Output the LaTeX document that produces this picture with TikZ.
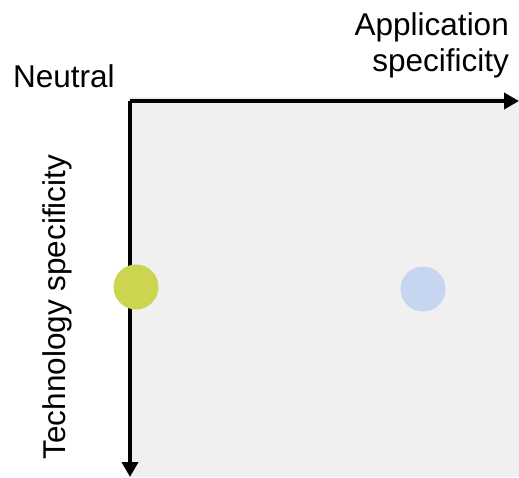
\documentclass[tikz,border=0pt]{standalone}
\usepackage{fontspec}
\setmainfont{Liberation Sans}
\usetikzlibrary{arrows.meta}
\definecolor{panelGray}{RGB}{240, 240, 240}
\definecolor{dotGreen}{RGB}{205, 213, 80}
\definecolor{dotBlue}{RGB}{198, 214, 241}

\begin{document}
\begin{tikzpicture}[x=1pt, y=-1pt,
  axislabel/.style={inner sep=0, font=\fontsize{31.5}{36}\selectfont},
  axisline/.style={line width=4pt, -{Triangle[length=15pt, width=16pt]}},
  dot/.style={circle, minimum size=45pt, inner sep=0}]
\useasboundingbox (0,0) rectangle (519,477);
% Panel
\fill[panelGray] (129,97) rectangle (519,477);
% Axes
\coordinate (origin) at (130,101);
\coordinate (appEnd) at (519,101);
\coordinate (techEnd) at (130,477);
\draw[axisline] (origin) -- (appEnd);
\draw[axisline] (origin) -- (techEnd);
% Labels
\node[axislabel, anchor=base west] (neutral) at (13,87) {Neutral};
\node[axislabel, anchor=north east, align=right] (appLabel) at (509,12) {Application\\specificity};
\node[axislabel, anchor=base, rotate=90] (techLabel) at (65,307) {Technology specificity};
% Dots
\node[dot, fill=dotGreen] (greenDot) at (136,287) {};
\node[dot, fill=dotBlue] (blueDot) at (423,289) {};
\end{tikzpicture}
\end{document}
